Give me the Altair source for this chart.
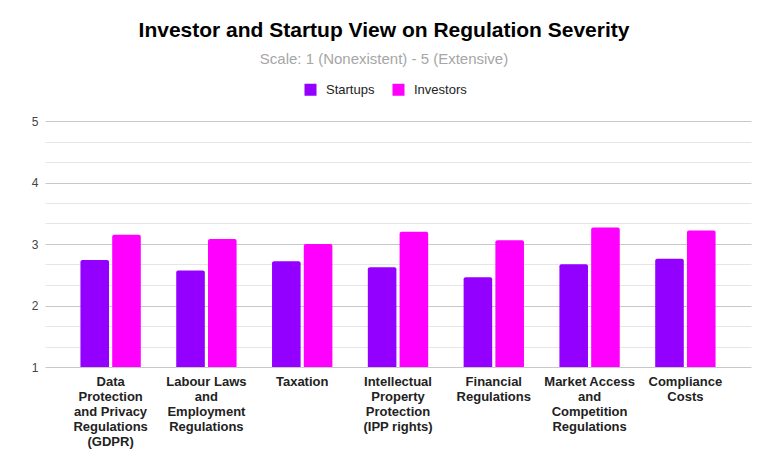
import altair as alt
import pandas as pd

categories = [
    "Data Protection and Privacy Regulations (GDPR)",
    "Labour Laws and Employment Regulations",
    "Taxation",
    "Intellectual Property Protection (IPP rights)",
    "Financial Regulations",
    "Market Access and Competition Regulations",
    "Compliance Costs",
]
label_lines = [
    ["Data", "Protection", "and Privacy", "Regulations", "(GDPR)"],
    ["Labour Laws", "and", "Employment", "Regulations"],
    ["Taxation"],
    ["Intellectual", "Property", "Protection", "(IPP rights)"],
    ["Financial", "Regulations"],
    ["Market Access", "and", "Competition", "Regulations"],
    ["Compliance", "Costs"],
]
series = ["Startups", "Investors"]
startups = [2.74, 2.57, 2.72, 2.62, 2.46, 2.67, 2.76]
investors = [3.15, 3.08, 3.00, 3.20, 3.06, 3.27, 3.22]
colors = ["#9300ff", "#ff00ff"]

rows = []
for c, s, i in zip(categories, startups, investors):
    rows.append({"category": c, "series": "Startups", "value": s})
    rows.append({"category": c, "series": "Investors", "value": i})
df = pd.DataFrame(rows)

# multi-line label expression
expr = "''"
for c, lines in reversed(list(zip(categories, label_lines))):
    arr = "[" + ",".join("'" + l + "'" for l in lines) + "]"
    expr = f"datum.label == '{c}' ? {arr} : ({expr})"

tick_vals = [1 + k / 3 for k in range(13)]

chart = alt.Chart(df).mark_bar(
    cornerRadiusTopLeft=2, cornerRadiusTopRight=2
).encode(
    x=alt.X("category:N", sort=categories,
            scale=alt.Scale(paddingInner=0.37, paddingOuter=0.37),
            axis=alt.Axis(title=None, labelExpr=expr, labelAngle=0,
                          labelFont="Liberation Sans", labelFontWeight="bold",
                          labelFontSize=13, labelColor="#222", labelLineHeight=15,
                          labelBaseline="top", labelPadding=8, ticks=False,
                          domain=False, grid=False, labelLimit=200)),
    xOffset=alt.XOffset("series:N", sort=series,
                        scale=alt.Scale(paddingInner=0.1)),
    y=alt.Y("value:Q",
            scale=alt.Scale(domain=[1, 5], zero=False, nice=False),
            axis=alt.Axis(title=None, values=tick_vals,
                          labelExpr="abs(datum.value - round(datum.value)) < 0.01 ? format(datum.value, 'd') : ''",
                          labelFont="Liberation Sans", labelFontSize=12,
                          labelColor="#444", ticks=False, domain=False,
                          labelPadding=7,
                          gridColor={"condition": {"test": "abs(datum.value - round(datum.value)) < 0.01", "value": "#c8c8c8"}, "value": "#e6e6e6"},
                          gridWidth=1)),
    y2=alt.datum(1),
    color=alt.Color("series:N", sort=series,
                    scale=alt.Scale(domain=series, range=colors),
                    legend=alt.Legend(title=None, orient="none", direction="horizontal",
                                      legendX=259, legendY=-38,
                                      symbolType="square", symbolSize=144,
                                      symbolStrokeWidth=0,
                                      labelFont="Liberation Sans", labelFontSize=13,
                                      labelColor="#222", labelOffset=9,
                                      columnPadding=17)),
).properties(
    width=706,
    height=246,
    title=alt.TitleParams(
        text="Investor and Startup View on Regulation Severity",
        subtitle="Scale: 1 (Nonexistent) - 5 (Extensive)",
        font="Liberation Sans", fontSize=21, fontWeight="bold", color="#000",
        subtitleFont="Liberation Sans", subtitleFontSize=15, subtitleColor="#a6a6a6",
        subtitlePadding=11, anchor="middle", dx=-14, offset=16,
    ),
    autosize=alt.AutoSizeParams(type="none"),
    padding={"left": 37, "top": 113, "right": 5, "bottom": 85},
).configure_view(stroke=None)

chart.save("out.html", embed_options={"renderer": "svg", "actions": False})
